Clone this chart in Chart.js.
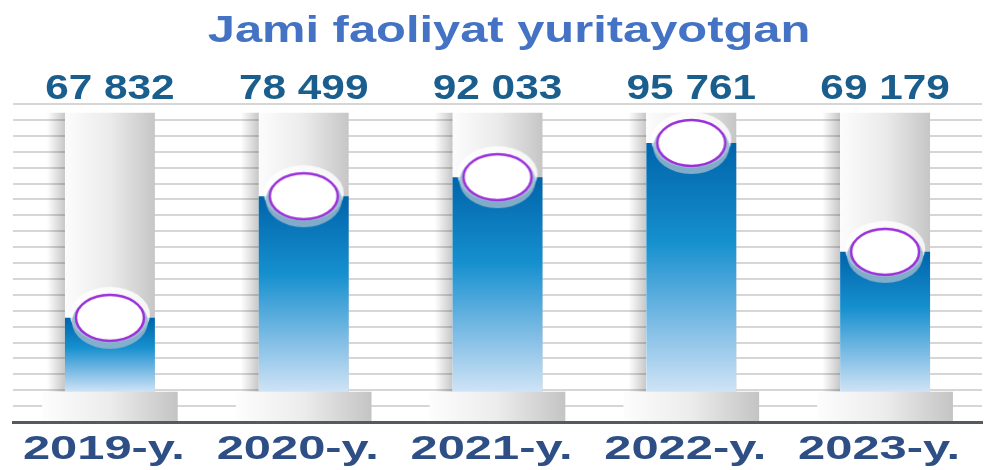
<!DOCTYPE html>
<html>
<head>
<meta charset="utf-8">
<script src="https://cdn.jsdelivr.net/npm/chart.js@4/dist/chart.umd.min.js"></script>
<style>
html, body { margin: 0; padding: 0; background: #fff; }
</style>
</head>
<body>
<canvas id="chart" width="989" height="470"></canvas>
<script>
var title = 'Jami faoliyat yuritayotgan';
var years = ['2019-y.', '2020-y.', '2021-y.', '2022-y.', '2023-y.'];
var totals = [67832, 78499, 92033, 95761, 69179];
// how full each tube is drawn in the picture, in grid steps above the axis
var fillLevels = [6.55, 14.2, 15.4, 17.55, 10.7];

var BASE_TOP = 1.9;   // top of the plinth
var TUBE_TOP = 19.45; // top of the grey tube

function fmt(v) {
    return String(v).replace(/\B(?=(\d{3})+(?!\d))/g, ' ');
}

// horizontal gradient across one bar
function hGrad(pct, stops) {
    return function(c) {
        var chart = c.chart, area = chart.chartArea;
        if (!area || c.dataIndex === undefined) return stops[stops.length - 1][1];
        var cx = chart.scales.x.getPixelForValue(c.dataIndex);
        var w = (area.right - area.left) / years.length * pct;
        var g = chart.ctx.createLinearGradient(cx - w / 2, 0, cx + w / 2, 0);
        stops.forEach(function(s) { g.addColorStop(s[0], s[1]); });
        return g;
    };
}

function blueGrad(c) {
    var chart = c.chart, area = chart.chartArea;
    if (!area || c.dataIndex === undefined) return '#1a8ccc';
    var y = chart.scales.y;
    var top = y.getPixelForValue(fillLevels[c.dataIndex]);
    var bot = y.getPixelForValue(BASE_TOP);
    var g = chart.ctx.createLinearGradient(0, top, 0, bot);
    g.addColorStop(0, '#0064aa');
    g.addColorStop(0.4, '#1690cf');
    g.addColorStop(0.75, '#84bfe6');
    g.addColorStop(1, '#cfe3f6');
    return g;
}

function makeCap() {
    var c = document.createElement('canvas');
    c.width = 86; c.height = 66;
    var g = c.getContext('2d');
    g.fillStyle = 'rgba(255,255,255,0.8)';
    g.beginPath(); g.ellipse(43, 30, 40, 28, 0, 0, 2 * Math.PI); g.fill();
    g.fillStyle = 'rgba(150,182,204,0.85)';
    g.beginPath(); g.ellipse(43, 37, 38, 27, 0, 0, 2 * Math.PI); g.fill();
    g.fillStyle = '#ffffff';
    g.strokeStyle = '#9b30d9';
    g.lineWidth = 2.5;
    g.beginPath(); g.ellipse(43, 33, 34, 23, 0, 0, 2 * Math.PI); g.fill(); g.stroke();
    return c;
}

function drawStretched(ctx, text, cx, baseline, font, color, sx) {
    ctx.save();
    ctx.font = font;
    ctx.fillStyle = color;
    ctx.textAlign = 'center';
    ctx.textBaseline = 'alphabetic';
    ctx.translate(cx, baseline);
    ctx.scale(sx, 1);
    ctx.fillText(text, 0, 0);
    ctx.restore();
}

var textPlugin = {
    id: 'texts',
    afterDraw: function(chart) {
        var ctx = chart.ctx, x = chart.scales.x;
        drawStretched(ctx, title, 509, 42, 'bold 37px "Liberation Sans"', '#4472c4', 1.32);
        totals.forEach(function(v, i) {
            drawStretched(ctx, fmt(v), x.getPixelForValue(i), 99, 'bold 35px "Liberation Sans"', '#1a5e8e', 1.21);
        });
        years.forEach(function(t, i) {
            drawStretched(ctx, t, x.getPixelForValue(i) - 6, 459, 'bold 33px "Liberation Sans"', '#2e4f86', 1.48);
        });
    }
};

var tubeRange = years.map(function() { return [BASE_TOP, TUBE_TOP]; });
var baseRange = years.map(function() { return [0, BASE_TOP]; });

var chart = new Chart(document.getElementById('chart').getContext('2d'), {
    type: 'bar',
    data: {
        labels: years,
        datasets: [
            {
                type: 'line',
                data: fillLevels,
                showLine: false,
                pointStyle: makeCap(),
                pointRadius: 1,
                clip: false,
                order: 1
            },
            {
                data: fillLevels.map(function(v) { return [BASE_TOP, v]; }),
                backgroundColor: blueGrad,
                barPercentage: 0.464,
                categoryPercentage: 1,
                grouped: false,
                order: 2
            },
            {
                data: baseRange,
                backgroundColor: hGrad(0.70, [[0, '#fdfdfd'], [0.5, '#ececec'], [1, '#c4c4c4']]),
                barPercentage: 0.70,
                categoryPercentage: 1,
                grouped: false,
                order: 3
            },
            {
                data: tubeRange,
                backgroundColor: hGrad(0.464, [[0, '#fcfcfc'], [0.5, '#ebebeb'], [1, '#c6c6c6']]),
                barPercentage: 0.464,
                categoryPercentage: 1,
                grouped: false,
                order: 4
            },
            {
                data: tubeRange,
                backgroundColor: hGrad(0.65, [[0, 'rgba(0,0,0,0)'], [0.143, 'rgba(0,0,0,0.22)'], [0.143, 'rgba(0,0,0,0)'], [1, 'rgba(0,0,0,0)']]),
                barPercentage: 0.65,
                categoryPercentage: 1,
                grouped: false,
                order: 5
            }
        ]
    },
    options: {
        responsive: false,
        animation: false,
        layout: { padding: { top: 104, bottom: 48, left: 13, right: 7 } },
        plugins: {
            legend: { display: false },
            tooltip: { enabled: false }
        },
        scales: {
            x: {
                offset: true,
                grid: { display: false, drawTicks: false },
                ticks: { display: false },
                border: { display: true, color: '#555a60', width: 3 }
            },
            y: {
                min: 0,
                max: 20,
                ticks: { display: false, stepSize: 1 },
                grid: { color: '#d6d6d6', lineWidth: 2, drawTicks: false },
                border: { display: false }
            }
        }
    },
    plugins: [textPlugin]
});
</script>
</body>
</html>
